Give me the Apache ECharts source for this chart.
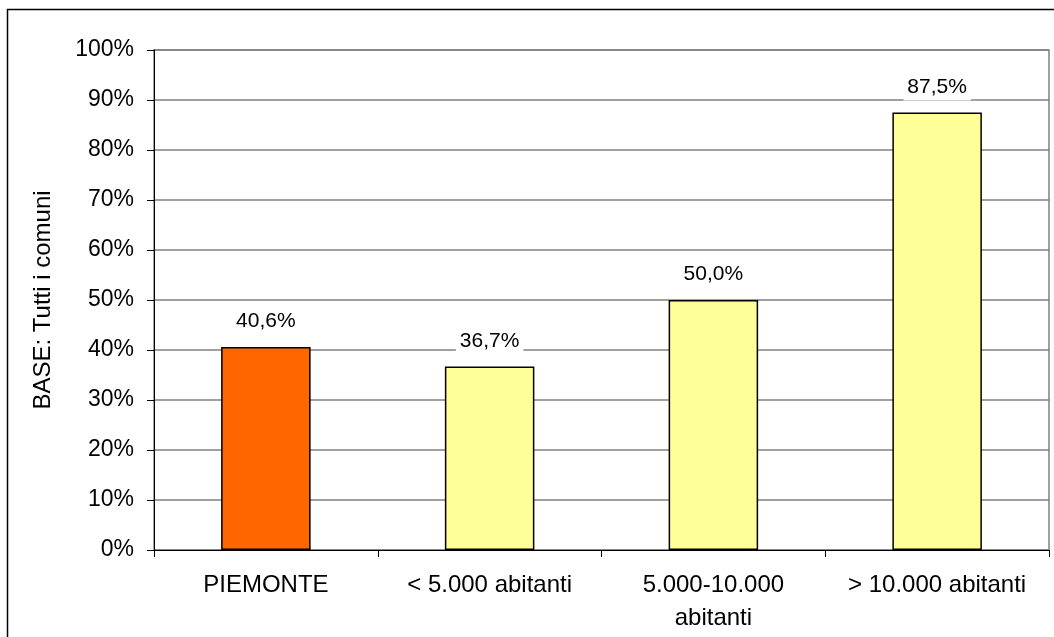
<!DOCTYPE html>
<html>
<head>
<meta charset="utf-8">
<script src="https://cdn.jsdelivr.net/npm/echarts@6/dist/echarts.min.js"></script>
<style>
  html, body { margin: 0; padding: 0; background: #fff; }
  #chart { width: 1054px; height: 637px; }
</style>
</head>
<body>
<div id="chart"></div>
<script>
// dati
var categories = ['PIEMONTE', '< 5.000 abitanti', '5.000-10.000\nabitanti', '> 10.000 abitanti'];
var values = [40.6, 36.7, 50.0, 87.5];
var yTicks = [0, 10, 20, 30, 40, 50, 60, 70, 80, 90, 100];

var chart = echarts.init(document.getElementById('chart'));
var font = 'Liberation Sans, Arial, sans-serif';

var option = {
  animation: false,
  backgroundColor: '#fff',
  textStyle: { fontFamily: font },
  grid: {
    left: 154,
    right: 5,
    top: 50,
    bottom: 87,
    show: true,
    borderColor: '#808080',
    borderWidth: 1.5
  },
  // cornice esterna
  graphic: [{
    type: 'rect',
    shape: { x: 7.5, y: 9.5, width: 1100, height: 700 },
    style: { fill: 'none', stroke: '#000', lineWidth: 1.5 },
    silent: true
  }],
  xAxis: {
    type: 'category',
    data: categories,
    axisLine: { lineStyle: { color: '#000', width: 1 } },
    axisTick: { show: true, length: 7, lineStyle: { color: '#000' } },
    axisLabel: {
      margin: 19,
      interval: 0,
      color: '#000',
      fontSize: 24,
      lineHeight: 33,
      fontFamily: font
    }
  },
  yAxis: {
    type: 'value',
    min: yTicks[0],
    max: yTicks[yTicks.length - 1],
    interval: 10,
    name: 'BASE: Tutti i comuni',
    nameLocation: 'middle',
    nameGap: 99,
    nameTextStyle: { color: '#000', fontSize: 24, fontFamily: font },
    axisLine: { show: true, lineStyle: { color: '#000', width: 1 } },
    axisTick: { show: true, length: 7, lineStyle: { color: '#000' } },
    axisLabel: {
      margin: 20,
      color: '#000',
      fontSize: 23,
      fontFamily: font,
      formatter: '{value}%'
    },
    splitLine: { show: true, lineStyle: { color: '#808080', width: 1.5 } }
  },
  series: [{
    type: 'bar',
    data: values,
    barWidth: '40%',
    silent: true,
    itemStyle: {
      color: function (p) { return p.dataIndex === 0 ? '#FF6600' : '#FFFF99'; },
      borderColor: '#000',
      borderWidth: 1.5
    },
    label: {
      show: true,
      position: 'top',
      distance: 12,
      color: '#000',
      fontSize: 21,
      fontFamily: font,
      backgroundColor: '#fff',
      padding: [3, 4, 3, 4],
      formatter: function (p) { return p.value.toFixed(1).replace('.', ',') + '%'; }
    }
  }]
};

chart.setOption(option);
</script>
</body>
</html>
